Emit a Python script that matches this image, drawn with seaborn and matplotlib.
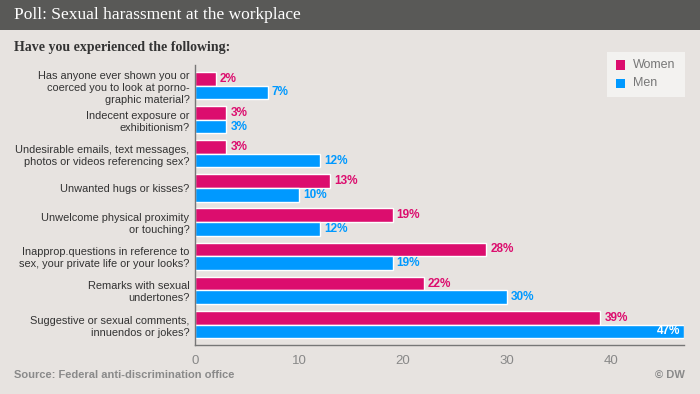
import pandas as pd
import matplotlib.pyplot as plt
import seaborn as sns
from matplotlib.patches import Rectangle

questions = [
    "Has anyone ever shown you or\ncoerced you to look at porno-\ngraphic material?",
    "Indecent exposure or\nexhibitionism?",
    "Undesirable emails, text messages,\nphotos or videos referencing sex?",
    "Unwanted hugs or kisses?",
    "Unwelcome physical proximity\nor touching?",
    "Inapprop.questions in reference to\nsex, your private life or your looks?",
    "Remarks with sexual\nundertones?",
    "Suggestive or sexual comments,\ninnuendos or jokes?",
]
women = [2, 3, 3, 13, 19, 28, 22, 39]
men = [7, 3, 12, 10, 12, 19, 30, 47]
groups = ["Women", "Men"]
xticks = [0, 10, 20, 30, 40]

BG = "#e7e3e0"
PINK = "#dc0d6e"
BLUE = "#0099ff"

df = pd.DataFrame({
    "question": questions * 2,
    "value": women + men,
    "group": ["Women"] * len(women) + ["Men"] * len(men),
})

sns.set_theme(style="white")
plt.rcParams['font.family'] = ['Liberation Sans', 'DejaVu Sans']

fig = plt.figure(figsize=(7, 3.94), dpi=100)
fig.patch.set_facecolor(BG)
ax = fig.add_axes([0.2786, 0.124, 0.698, 0.711])
ax.set_facecolor(BG)

sns.barplot(data=df, x="value", y="question", hue="group", hue_order=groups,
            palette=[PINK, BLUE], orient="h", width=0.8, ax=ax, legend=False,
            saturation=1)

ax.set_xlim(0, 47)
ax.set_ylim(7.6, -0.6)
ax.set_xticks(xticks)
ax.set_xlabel("")
ax.set_ylabel("")
for s in ["top", "right"]:
    ax.spines[s].set_visible(False)
for s in ["left", "bottom"]:
    ax.spines[s].set_color("#777777")
    ax.spines[s].set_linewidth(1)
ax.tick_params(axis="x", colors="#888888", labelsize=9.5, length=4, width=0.8, direction="out", pad=3)
ax.tick_params(axis="y", colors="#333333", labelsize=7.9, length=0, pad=4)
for lbl in ax.get_yticklabels():
    lbl.set_horizontalalignment("right")
    lbl.set_multialignment("right")
    lbl.set_linespacing(1.25)
for lbl in ax.get_xticklabels():
    lbl.set_color("#888888")

# value labels
for cont, color in zip(ax.containers, [PINK, BLUE]):
    for bar in cont:
        v = bar.get_width()
        y = bar.get_y() + bar.get_height() / 2
        if v >= 45:
            ax.text(v - 0.3, y, f"{v:.0f}%", ha="right", va="center",
                    color="white", fontsize=8.5, fontweight="bold")
        else:
            ax.text(v + 0.4, y, f"{v:.0f}%", ha="left", va="center",
                    color=color, fontsize=8.5, fontweight="bold")

# header
fig.add_artist(Rectangle((0, 1 - 30 / 394), 1, 30 / 394, transform=fig.transFigure,
                         facecolor="#595957", edgecolor="none"))
fig.text(14 / 700, 1 - 15 / 394, "Poll: Sexual harassment at the workplace",
         family=["Liberation Serif", "DejaVu Serif"], fontsize=12.5, color="white", va="center")
fig.text(14 / 700, 1 - 48 / 394, "Have you experienced the following:",
         family=["Liberation Serif", "DejaVu Serif"], fontsize=10, fontweight="bold",
         color="#333333", va="center")

# legend
fig.add_artist(Rectangle((607 / 700, 1 - 97 / 394), 78 / 700, 45 / 394,
                         transform=fig.transFigure, facecolor="#f3f2f0", edgecolor="none"))
for i, (g, c) in enumerate(zip(groups, [PINK, BLUE])):
    yy = 1 - (65 + i * 18) / 394
    fig.add_artist(Rectangle((616 / 700, yy - 4.5 / 394), 9 / 700, 9 / 394,
                             transform=fig.transFigure, facecolor=c, edgecolor="none"))
    fig.text(633 / 700, yy, g, fontsize=9, color="#777777", va="center")

# footer
fig.text(14 / 700, 1 - 375 / 394, "Source: Federal anti-discrimination office",
         fontsize=8, fontweight="bold", color="#8a8a8a", va="center")
fig.text(685 / 700, 1 - 375 / 394, "© DW", fontsize=8, fontweight="bold",
         color="#8a8a8a", va="center", ha="right")

fig.savefig("out.png", dpi=100, facecolor=BG)
